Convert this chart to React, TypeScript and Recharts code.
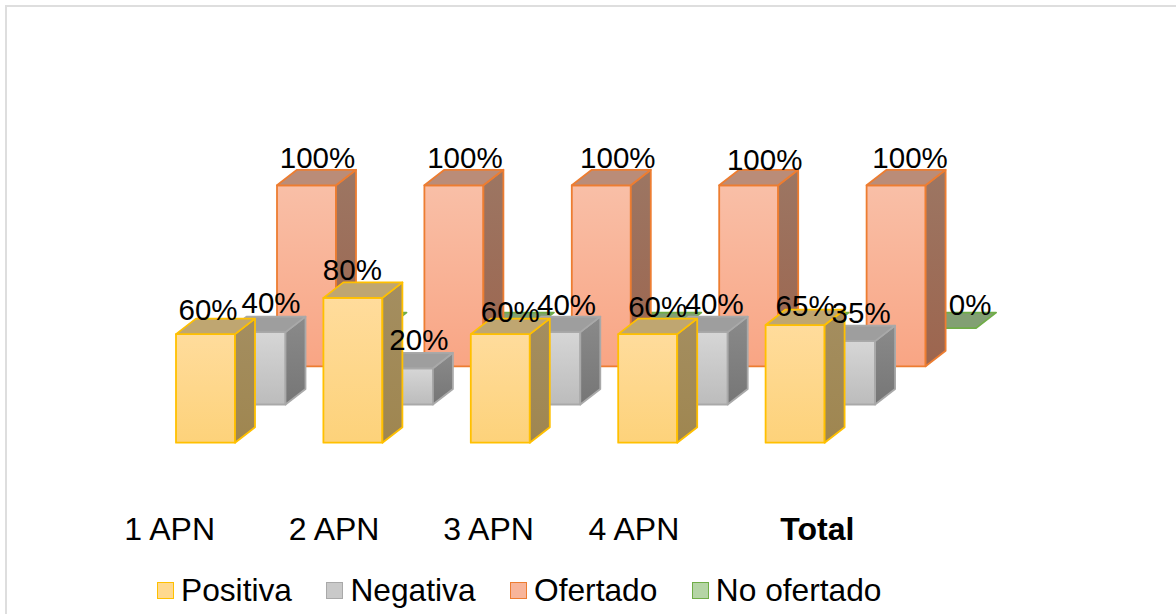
import React from 'react';
import { BarChart, Bar, XAxis, YAxis, LabelList, Legend } from 'recharts';

const categories = ['1 APN', '2 APN', '3 APN', '4 APN', 'Total'];
const positiva = [60, 80, 60, 60, 65];
const negativa = [40, 20, 40, 40, 35];
const ofertado = [100, 100, 100, 100, 100];
const noOfertado = [0, 0, 0, 0, 0];

const tableData = categories.map((name, i) => ({
  name,
  positiva: positiva[i],
  negativa: negativa[i],
  ofertado: ofertado[i],
  noOfertado: noOfertado[i],
}));

const FONT = '"Liberation Sans", Arial, sans-serif';
const BAR_W = 59;
// excel fake 3d: each series sits one step further back, and every box has the same depth
const LAYER_DX = 50.5;
const LAYER_DY = -38.2;
const DEPTH_DX = 20;
const DEPTH_DY = -15.5;

const styles = {
  positiva: { grad: 'gPos', side: 'gPosSide', top: '#bfa671', stroke: '#ffc000', swatch: '#ffd98f' },
  negativa: { grad: 'gNeg', side: 'gNegSide', top: '#9e9e9e', stroke: '#a9a9a9', swatch: '#c9c9c9' },
  ofertado: { grad: 'gOfe', side: 'gOfeSide', top: '#ba8c78', stroke: '#ed7d31', swatch: '#f8b59a' },
  noOfertado: { grad: 'gNoo', side: 'gNooSide', top: '#82a073', stroke: '#70ad47', swatch: '#b5d5a5' },
};

// hand placed labels in the original
const labelNudges = {
  positiva: [[2.5, -14], [-0.5, -18], [10, -12], [10, -17.6], [10, -9]],
  negativa: [[15, -18.7], [15.5, -18], [15.7, -17], [16, -18], [15.5, -17.7]],
  ofertado: [[11, -17.5], [11, -17.5], [16.5, -17.5], [16, -15.5], [14, -17.5]],
  noOfertado: [null, null, null, null, [23.5, -13.5]],
};
const tickNudges = [-36, -19, -12, -14, 22];

const series = [
  { key: 'noOfertado', name: 'No ofertado', layer: 3 },
  { key: 'ofertado', name: 'Ofertado', layer: 2 },
  { key: 'negativa', name: 'Negativa', layer: 1 },
  { key: 'positiva', name: 'Positiva', layer: 0 },
];
const legendOrder = ['positiva', 'negativa', 'ofertado', 'noOfertado'];

function Box3D(props: any) {
  const { x, y, width, height, skey, layer } = props;
  const s = styles[skey];
  const bx = x + layer * LAYER_DX;
  const by = y + layer * LAYER_DY;
  const r = bx + width;
  const b = by + height;
  const top = `${bx},${by} ${bx + DEPTH_DX},${by + DEPTH_DY} ${r + DEPTH_DX},${by + DEPTH_DY} ${r},${by}`;
  const side = `${r},${by} ${r + DEPTH_DX},${by + DEPTH_DY} ${r + DEPTH_DX},${b + DEPTH_DY} ${r},${b}`;
  return (
    <g stroke={s.stroke} strokeWidth={1.8} strokeLinejoin="round">
      {height > 0 && <rect x={bx} y={by} width={width} height={height} fill={`url(#${s.grad})`} />}
      {height > 0 && <polygon points={side} fill={`url(#${s.side})`} />}
      <polygon points={top} fill={s.top} />
    </g>
  );
}

function DataLabel(props: any) {
  const { x, y, width, value, index, skey, layer } = props;
  const nudge = labelNudges[skey][index];
  if (!nudge) return null;
  return (
    <text
      x={x + width / 2 + layer * LAYER_DX + nudge[0]}
      y={y + layer * LAYER_DY + nudge[1]}
      textAnchor="middle"
      fontFamily={FONT}
      fontSize={29.5}
      fill="#000"
    >
      {value}%
    </text>
  );
}

function CategoryTick(props: any) {
  const { x, payload, index } = props;
  return (
    <text
      x={x + tickNudges[index]}
      y={539.5}
      textAnchor="middle"
      fontFamily={FONT}
      fontSize={32}
      fontWeight={payload.value === 'Total' ? 700 : 400}
      fill="#000"
    >
      {payload.value}
    </text>
  );
}

function ChartLegend() {
  return (
    <div style={{ display: 'flex', gap: 34.5, paddingLeft: 157, fontFamily: FONT, fontSize: 31.7, lineHeight: '36px', color: '#000' }}>
      {legendOrder.map((k) => {
        const s = styles[k];
        return (
          <div key={k} style={{ display: 'flex', alignItems: 'center', gap: 7, whiteSpace: 'nowrap' }}>
            <span style={{ width: 15, height: 15, background: s.swatch, border: `1.5px solid ${s.stroke}`, display: 'inline-block' }} />
            {series.find((d) => d.key === k).name}
          </div>
        );
      })}
    </div>
  );
}

function gradient(id: string, from: string, to: string) {
  return (
    <linearGradient id={id} x1="0" y1="0" x2="0" y2="1">
      <stop offset="0%" stopColor={from} />
      <stop offset="100%" stopColor={to} />
    </linearGradient>
  );
}

export default function App() {
  return (
    <div style={{ position: 'absolute', left: 0, top: 0, width: 1176, height: 614, background: '#fff', overflow: 'hidden' }}>
      <div style={{ position: 'absolute', left: 5, top: 5, width: 1300, height: 640, border: '2px solid #dedede' }} />
      <BarChart
        width={1176}
        height={614}
        data={tableData}
        margin={{ top: 261.7, right: 307, bottom: 0, left: 132 }}
        barSize={BAR_W}
        barGap={-BAR_W}
        style={{ position: 'absolute', left: 0, top: 0 }}
      >
        <defs>
          {gradient('gPos', '#ffdc9c', '#fdd27a')}
          {gradient('gPosSide', '#a48e60', '#9f8650')}
          {gradient('gNeg', '#d6d6d6', '#bcbcbc')}
          {gradient('gNegSide', '#8a8a8a', '#767676')}
          {gradient('gOfe', '#f9bfa7', '#f9a584')}
          {gradient('gOfeSide', '#9c7663', '#9d654e')}
          {gradient('gNoo', '#b5d5a5', '#a9d18e')}
          {gradient('gNooSide', '#82a073', '#6f8f5f')}
        </defs>
        <XAxis dataKey="name" axisLine={false} tickLine={false} height={171.3} tick={<CategoryTick />} interval={0} />
        <YAxis domain={[0, 100]} hide />
        <Legend
          verticalAlign="middle"
          align="center"
          content={<ChartLegend />}
          wrapperStyle={{ left: 0, top: 572, width: 1176 }}
        />
        {series.map((s) => (
          <Bar
            key={s.key}
            dataKey={s.key}
            name={s.name}
            isAnimationActive={false}
            shape={(p: any) => <Box3D {...p} skey={s.key} layer={s.layer} />}
          />
        ))}
        {/* second pass so the labels stay above every box */}
        {series.map((s) => (
          <Bar
            key={`${s.key}-labels`}
            dataKey={s.key}
            isAnimationActive={false}
            legendType="none"
            shape={() => null}
          >
            <LabelList dataKey={s.key} content={(p: any) => <DataLabel {...p} skey={s.key} layer={s.layer} />} />
          </Bar>
        ))}
      </BarChart>
    </div>
  );
}
